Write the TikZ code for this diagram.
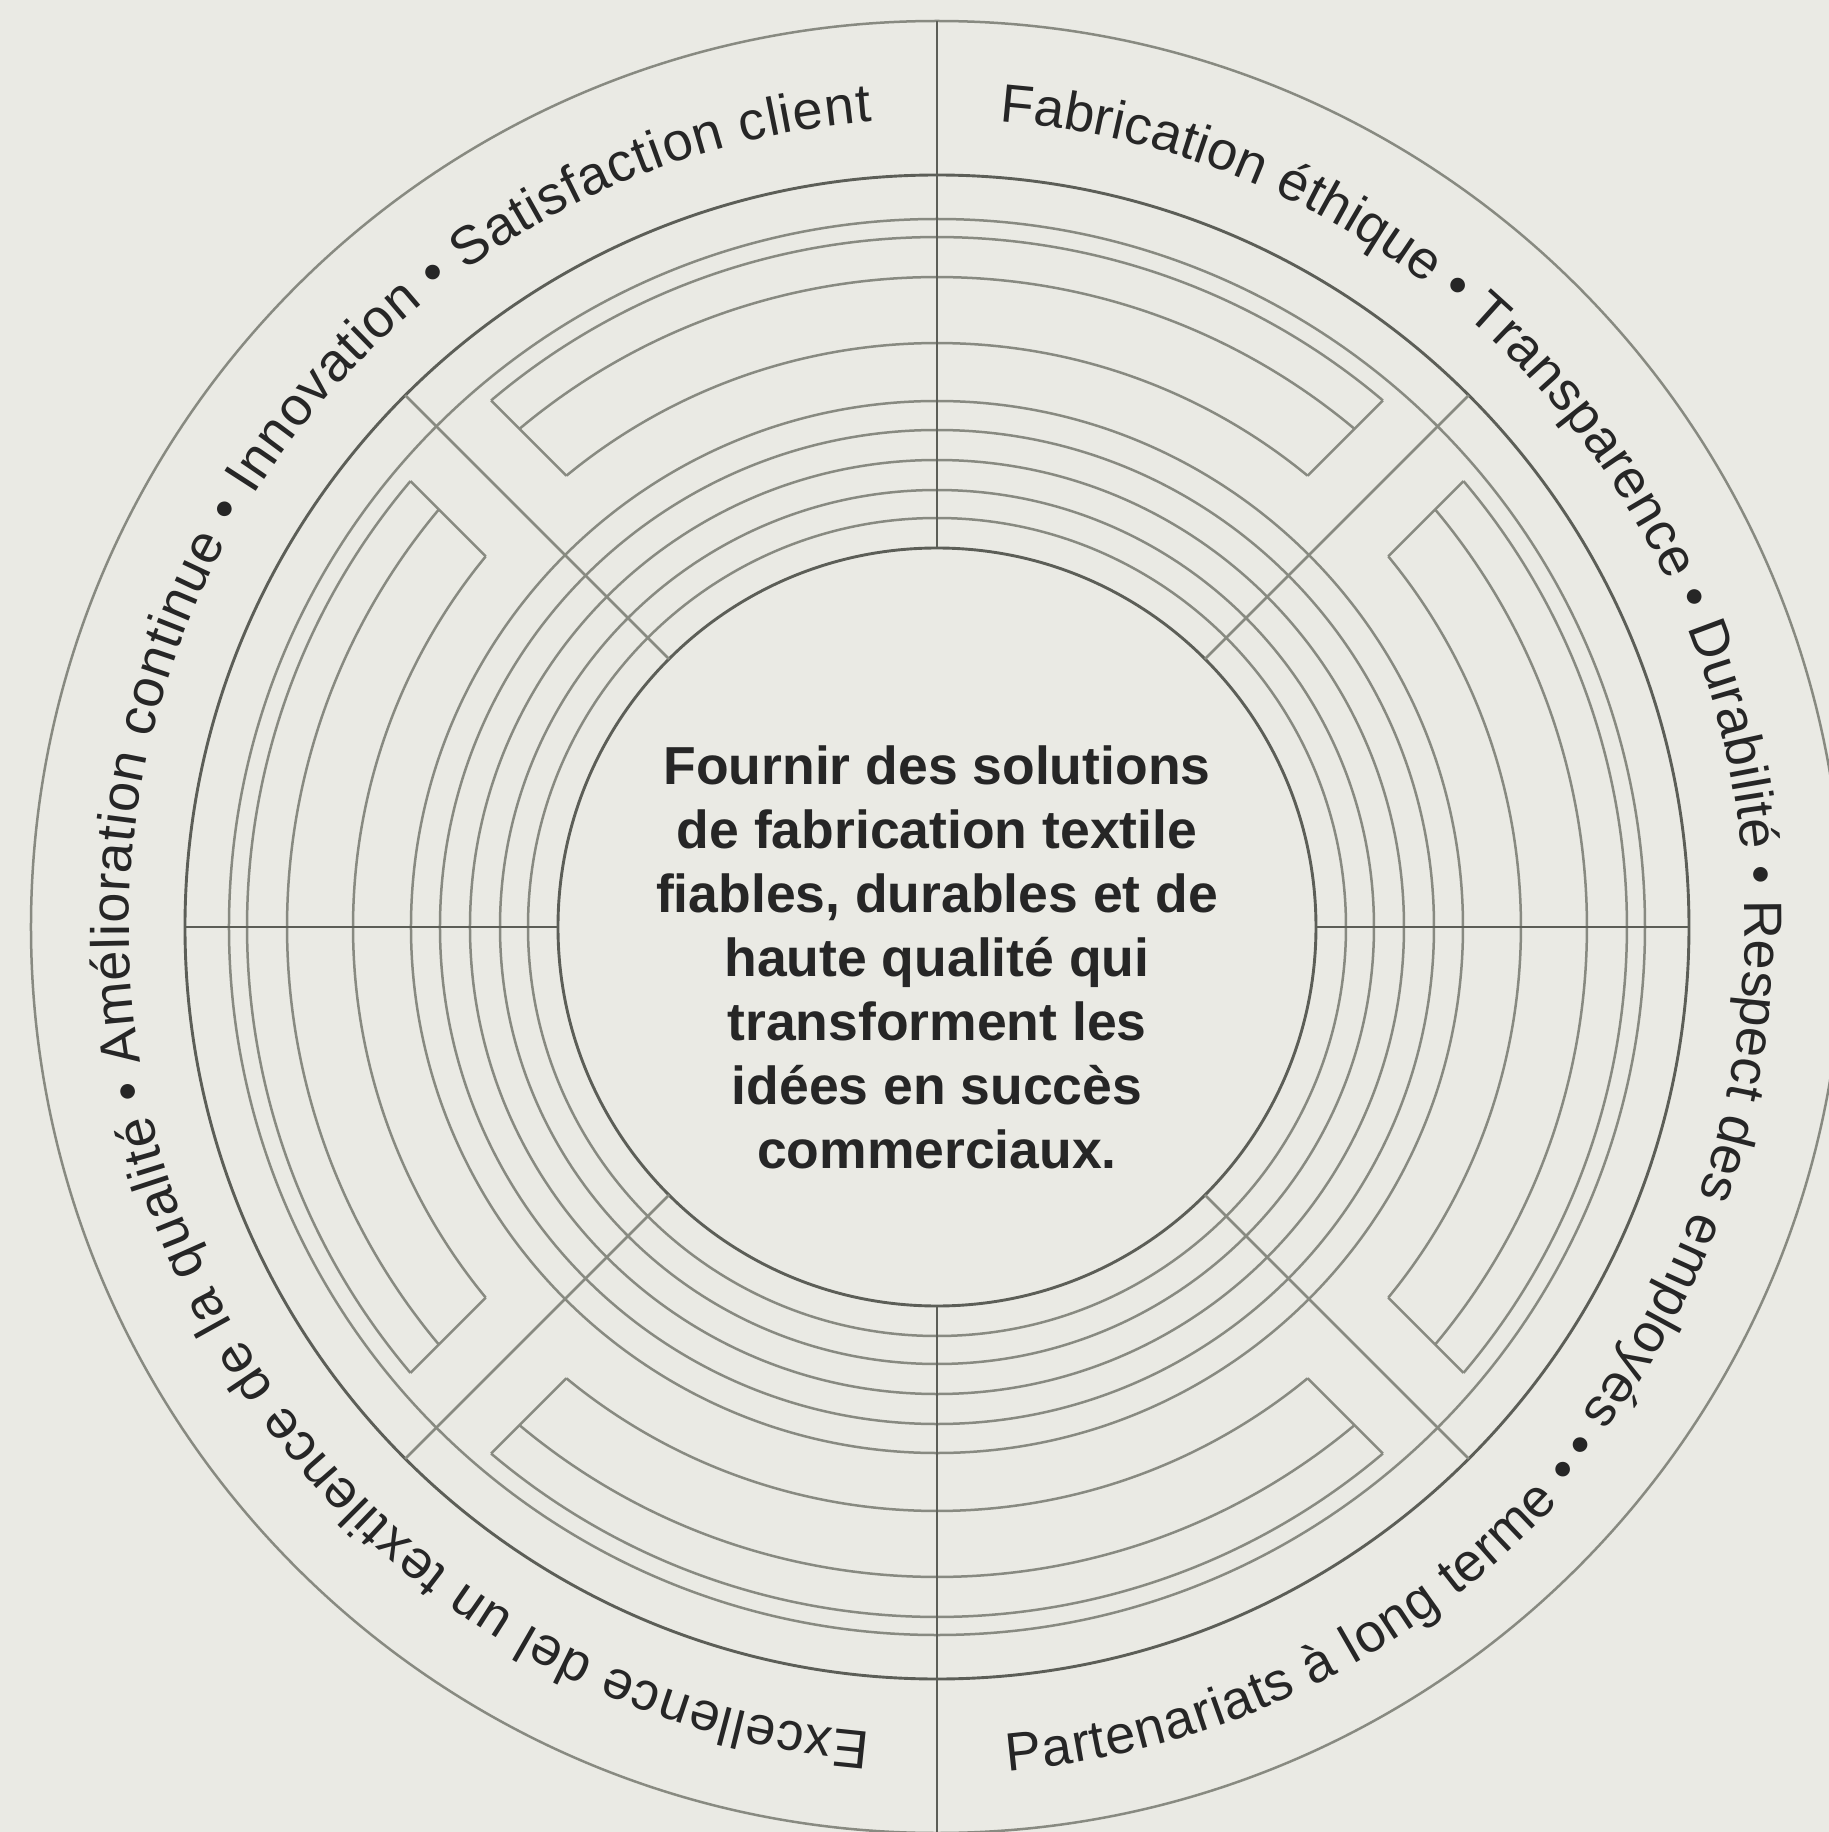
\documentclass[tikz,border=0pt]{standalone}
\usepackage{fontspec}
\setmainfont{Liberation Sans}
\usetikzlibrary{decorations.text}
\definecolor{bg}{HTML}{EAEAE4}
\definecolor{ln}{HTML}{888A81}
\definecolor{lnd}{HTML}{5C5E57}
\definecolor{txt}{HTML}{262626}
\begin{document}
\begin{tikzpicture}[x=1pt,y=1pt,
  ringline/.style={draw=ln, line width=2.5pt},
  darkline/.style={draw=lnd, line width=2.9pt},
  ringtext/.style={decorate, decoration={text along path, text color=txt,
    text align={fit to path}, text={|\fontsize{54}{60}\selectfont|#1}}}]
\useasboundingbox (-937,-905) rectangle (892,927);
\fill[bg] (-937,-905) rectangle (892,927);
\clip (-937,-905) rectangle (892,927);
% full circles
\foreach \r in {409,437,467,497,526,708} \draw[ringline] (0,0) circle[radius=\r];
\draw[darkline] (0,0) circle[radius=379];
\draw[darkline] (0,0) circle[radius=752];
\draw[ringline] (0,0) circle[radius=906];
% interrupted arcs with brackets beside each diagonal
\def\off{57}
\foreach \a in {45,135,225,315} {
  \foreach \r in {584,650,690} {
    \draw[ringline] ({\a+asin(\off/\r)}:\r) arc[start angle={\a+asin(\off/\r)}, end angle={\a+90-asin(\off/\r)}, radius=\r];
  }
  \draw[ringline] ({\a+asin(\off/584)}:584) -- ({\a+asin(\off/690)}:690);
  \draw[ringline] ({\a-asin(\off/584)}:584) -- ({\a-asin(\off/690)}:690);
  \draw[ringline] (\a:379) -- (\a:752);
}
% axes
\draw[darkline] (0,379) -- (0,906);
\draw[darkline] (0,-379) -- (0,-906);
\draw[darkline] (-379,0) -- (-752,0);
\draw[darkline] (379,0) -- (752,0);
% ring texts
\path[ringtext={Excellence del un textilence de la qualité • Amélioration continue • Innovation • Satisfaction client}]
  (265.3:808) arc[start angle=265.3, end angle=94.7, radius=808];
\path[ringtext={Fabrication éthique • Transparence • Durabilité • Respect des employés •}]
  (85.6:808) arc[start angle=85.6, end angle=-39.5, radius=808];
\path[ringtext={Partenariats à long terme •}]
  (-85.2:847) arc[start angle=-85.2, end angle=-40.3, radius=847];
% centre
\node[font=\fontsize{53.5}{64}\selectfont\bfseries, text=txt, align=center] (mission) at (0,-30)
  {Fournir des solutions\\de fabrication textile\\fiables, durables et de\\haute qualité qui\\transforment les\\idées en succès\\commerciaux.};
\end{tikzpicture}
\end{document}
